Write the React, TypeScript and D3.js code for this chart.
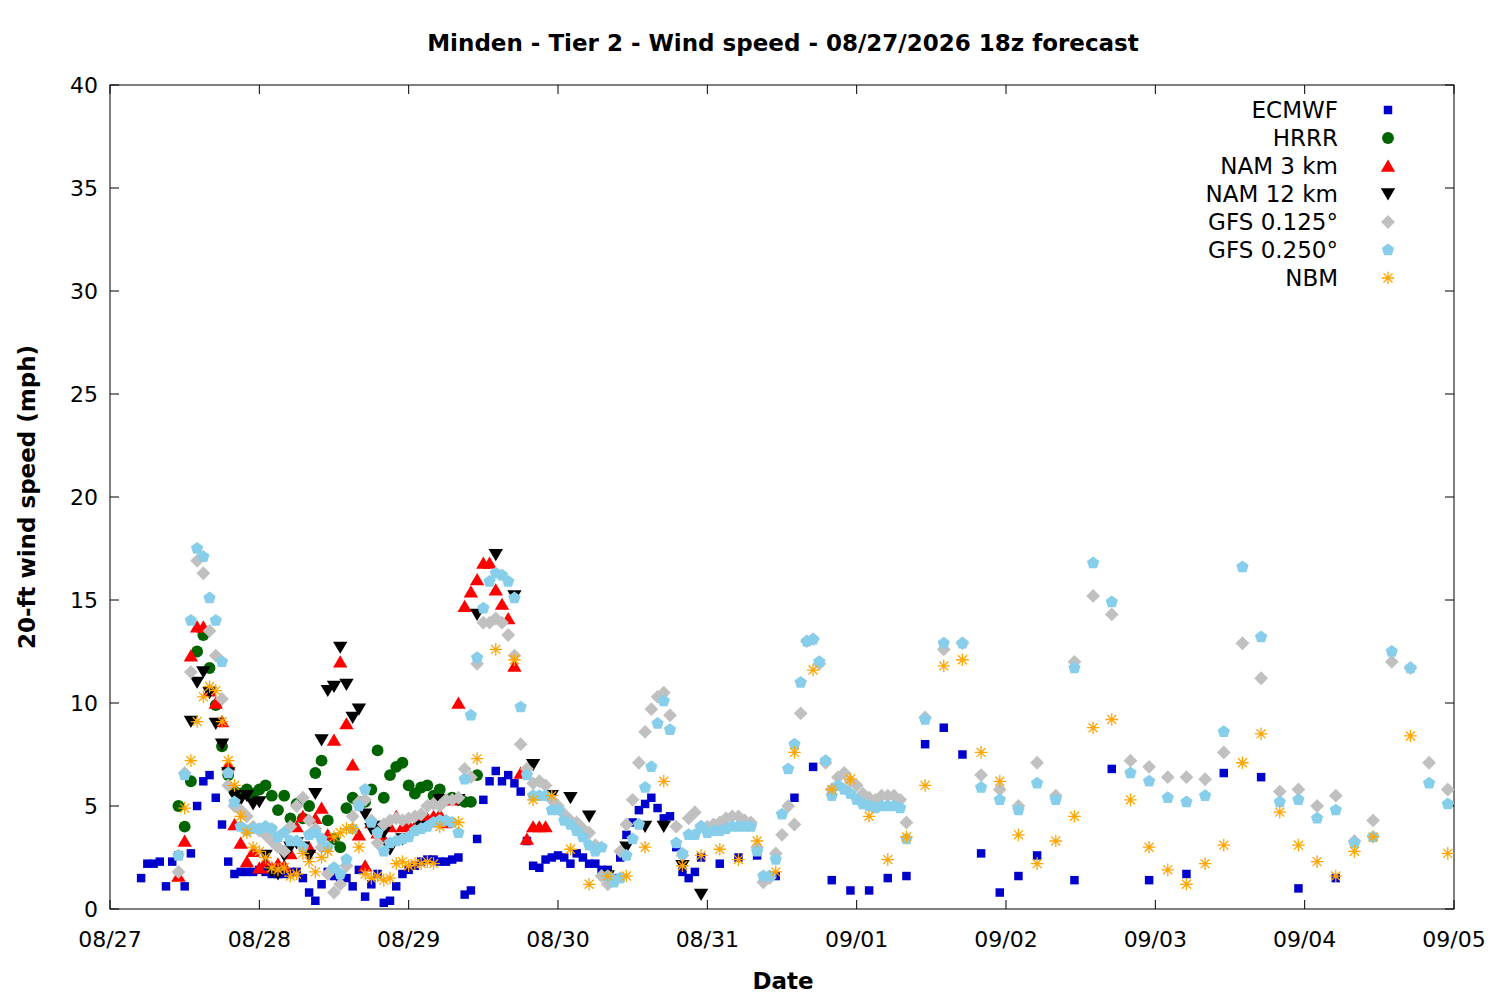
import * as d3 from "d3";

const W = 1500;
const H = 1000;
const MARGIN = { top: 85, right: 46, bottom: 91, left: 110 };

// hours since 08/27 00 local
const dayLabels = ["08/27", "08/28", "08/29", "08/30", "08/31", "09/01", "09/02", "09/03", "09/04", "09/05"];
const yTicks = [0, 5, 10, 15, 20, 25, 30, 35, 40];

type Pt = [number, number];
const hourly = (start: number, vals: number[]): Pt[] => vals.map((v, i) => [start + i, v]);
const every3 = (start: number, vals: number[]): Pt[] => vals.map((v, i) => [start + 3 * i, v]);

const ecmwf: Pt[] = [
  ...hourly(5, [1.5, 2.2, 2.2, 2.3, 1.1, 2.3, 2.6, 1.1, 2.7, 5.0, 6.2, 6.5, 5.4, 4.1, 2.3, 1.7, 1.8, 1.8, 1.8, 1.9,
    1.8, 1.7, 1.7, 1.7, 1.8, 1.8, 1.5, 0.8, 0.4, 1.2, 1.8, 1.6, 1.3, 1.5, 1.1, 1.9, 0.6, 1.2, 1.7, 0.3,
    0.4, 1.1, 1.7, 1.9, 2.1, 2.3, 2.4, 2.4, 2.3, 2.3, 2.4, 2.5, 0.7, 0.9, 3.4, 5.3, 6.2, 6.7, 6.2, 6.5,
    6.1, 5.7, 3.3, 2.1, 2.0, 2.4, 2.5, 2.6, 2.5, 2.2, 2.7, 2.5, 2.2, 2.2, 1.9, 1.9, 1.5, 2.5, 3.6, 4.2,
    4.8, 5.1, 5.4, 4.9, 4.4, 4.5, 3.0, 1.8, 1.5, 1.8]),
  ...every3(95, [2.5, 2.2, 2.5, 2.6, 1.6, 5.4, 6.9, 1.4, 0.9, 0.9, 1.5, 1.6, 8.0, 8.8, 7.5, 2.7, 0.8, 1.6, 2.6]),
  [155, 1.4], [161, 6.8], [167, 1.4], [173, 1.7], [179, 6.6], [185, 6.4], [191, 1.0], [197, 1.5],
];

const hrrr: Pt[] = hourly(11, [5.0, 4.0, 6.2, 12.5, 13.3, 11.7, 9.9, 7.9, 6.5, 5.7, 5.6, 5.8, 5.6, 5.8, 6.0, 5.5,
  4.8, 5.5, 4.4, 5.1, 4.4, 5.0, 6.6, 7.2, 4.3, 3.4, 3.0, 4.9, 5.4, 5.2, 5.2, 5.8, 7.7, 5.4, 6.5, 6.9, 7.1,
  6.0, 5.6, 5.9, 6.0, 5.5, 5.8, 5.3, 5.4, 5.3, 5.2, 5.2, 6.5]);

const nam3: Pt[] = hourly(11, [1.6, 3.3, 12.3, 13.7, 13.7, 10.6, 10.0, 9.1, 7.0, 4.1, 3.2, 2.3, 2.8, 2.0, 2.3,
  2.0, 2.2, 2.1, 2.7, 4.0, 4.5, 3.0, 4.4, 4.9, 3.6, 8.2, 12.0, 9.0, 7.0, 3.6, 2.1, 4.2, 3.7, 3.4, 4.0, 4.5,
  4.0, 4.1, 4.0, 4.5, 4.4, 4.5, 4.6, 4.2, 5.3, 10.0, 14.7, 15.4, 16.0, 16.8, 16.8, 15.5, 14.8, 14.1, 11.8,
  6.6, 3.4, 4.0, 4.0, 4.0]);

const nam12: Pt[] = [
  ...hourly(13, [9.1, 11.0, 11.5, 10.5, 9.0, 8.0, 6.6, 5.5, 5.3, 5.5, 5.1, 5.2, 2.6, 1.8, 1.7, 2.6, 3.0, 3.2,
    3.0, 2.6, 5.6, 8.2, 10.6, 10.8, 12.7, 10.9, 9.3, 9.7, 4.6, 3.9, 4.0, 3.7, 2.9]),
  ...every3(47, [3.4, 4.0, 5.3, 5.3, 14.3, 17.2, 15.2, 7.0, 5.5, 5.4, 4.5, 1.6, 3.0, 4.0, 4.0, 2.1, 0.7]),
];

const gfs125: Pt[] = [
  ...hourly(11, [1.8, 6.6, 11.5, 16.9, 16.3, 13.5, 12.3, 10.2, 6.0, 5.0, 4.8, 4.5, 4.0, 3.8, 3.6, 3.3, 3.0,
    2.8, 4.0, 5.0, 5.4, 4.3, 3.9, 3.0, 1.7, 0.8, 1.2, 2.1, 4.5, 5.2, 5.3, 4.3, 3.2, 4.1, 4.3, 4.4, 4.3, 4.4,
    4.5, 4.6, 5.0, 5.1, 5.0, 5.3, 5.3, 5.4, 6.8, 6.4, 11.9, 13.9, 13.9, 14.1, 13.9, 13.3, 12.3, 8.0, 6.8,
    6.1, 6.2, 6.0, 5.3, 5.0, 4.6, 4.3, 4.2, 3.9, 3.7, 3.1, 1.6, 1.2, 1.4, 2.8, 4.1, 5.3, 7.1, 8.6, 9.7,
    10.3, 10.5, 9.4, 4.0, 2.6, 4.4, 4.7, 4.0, 4.0, 4.1, 4.2, 4.4, 4.5, 4.5, 4.3, 4.2, 3.0, 1.3, 1.5, 2.7,
    3.6, 5.0, 4.1, 9.5, 13.0, 13.1, 11.9, 7.1, 5.8, 6.4, 6.6, 6.2, 6.0, 5.6, 5.4, 5.3, 5.5, 5.5, 5.5, 5.3]),
  ...every3(128, [4.2, 9.3, 12.6, 12.9, 6.5, 5.8, 5.0, 7.1, 5.5, 12.0, 15.2, 14.3, 7.2, 6.9, 6.4, 6.4, 6.3,
    7.6, 12.9, 11.2, 5.7, 5.8, 5.0, 5.5, 3.3, 4.3, 12.0, 11.7, 7.1, 5.8]),
];

const gfs250: Pt[] = [
  ...hourly(11, [2.6, 6.5, 14.0, 17.5, 17.1, 15.1, 14.0, 12.0, 6.6, 5.2, 4.0, 3.8, 3.9, 3.9, 4.0, 3.9, 3.5,
    3.7, 3.3, 3.3, 3.0, 3.6, 3.7, 3.4, 3.0, 2.0, 1.7, 2.4, 3.9, 5.0, 5.8, 4.2, 3.7, 2.8, 3.2, 3.3, 3.4, 3.5,
    3.8, 3.9, 4.0, 4.2, 4.3, 4.3, 4.2, 3.7, 6.3, 9.4, 12.2, 14.6, 15.9, 16.3, 16.2, 15.9, 15.1, 9.8, 6.5,
    5.5, 5.5, 5.5, 4.8, 4.8, 4.3, 4.1, 3.8, 3.5, 3.1, 2.8, 3.0, 1.6, 1.3, 1.5, 2.6, 3.4, 4.1, 5.9, 6.9,
    9.0, 10.1, 8.7, 3.2, 2.7, 3.6, 3.6, 4.0, 3.7, 3.8, 3.8, 3.9, 4.0, 4.0, 4.0, 4.0, 2.8, 1.6, 1.6, 2.4,
    4.6, 6.8, 8.0, 11.0, 13.0, 13.1, 12.0, 7.2, 5.5, 6.0, 5.8, 5.6, 5.3, 5.1, 5.0, 4.9, 5.0, 5.0, 5.0, 4.9]),
  ...every3(128, [3.4, 9.2, 12.9, 12.9, 5.9, 5.3, 4.8, 6.1, 5.3, 11.7, 16.8, 14.9, 6.6, 6.2, 5.4, 5.2, 5.5,
    8.6, 16.6, 13.2, 5.2, 5.3, 4.4, 4.8, 3.2, 3.5, 12.5, 11.7, 6.1, 5.1]),
];

const nbm: Pt[] = [
  ...hourly(12, [4.9, 7.2, 9.1, 10.3, 10.8, 10.6, 9.1, 7.2, 6.0, 4.5, 3.7, 3.0, 2.8, 2.5, 2.0, 1.9, 2.0, 1.6,
    1.7, 2.7, 2.3, 1.8, 2.5, 2.8, 3.5, 3.7, 3.9, 3.9, 3.0, 1.7, 1.5, 1.6, 1.4, 1.5, 2.2, 2.3, 2.1, 2.2, 2.2,
    2.3, 2.2, 4.0]),
  ...every3(56, [4.2, 7.3, 12.6, 12.1, 5.3, 5.5, 2.9, 1.2, 1.6, 1.6, 3.0, 6.2, 2.1, 2.6, 2.9, 2.4, 3.3,
    1.8, 7.6, 11.6, 5.8, 6.3, 4.5, 2.4, 3.5, 6.0, 11.8, 12.1, 7.6, 6.2, 3.6, 2.2, 3.3, 4.5, 8.8, 9.2, 5.3,
    3.0, 1.9, 1.2, 2.2, 3.1, 7.1, 8.5, 4.7, 3.1, 2.3, 1.6, 2.8, 3.5]),
  [209, 8.4], [215, 2.7],
];

const pentagon: d3.SymbolType = {
  draw(ctx, size) {
    const r = Math.sqrt(size / 2.378);
    for (let i = 0; i < 5; i++) {
      const a = -Math.PI / 2 + (i * 2 * Math.PI) / 5;
      const x = r * Math.cos(a), y = r * Math.sin(a);
      i === 0 ? ctx.moveTo(x, y) : ctx.lineTo(x, y);
    }
    ctx.closePath();
  },
};
const triDown: d3.SymbolType = {
  draw(ctx, size) {
    const s = Math.sqrt(size * 2.3) / 2;
    ctx.moveTo(-s, -s * 0.8);
    ctx.lineTo(s, -s * 0.8);
    ctx.lineTo(0, s * 0.9);
    ctx.closePath();
  },
};
const triUp: d3.SymbolType = {
  draw(ctx, size) {
    const s = Math.sqrt(size * 2.3) / 2;
    ctx.moveTo(-s, s * 0.8);
    ctx.lineTo(s, s * 0.8);
    ctx.lineTo(0, -s * 0.9);
    ctx.closePath();
  },
};
const diamond: d3.SymbolType = {
  draw(ctx, size) {
    const s = Math.sqrt(size) * 0.75;
    ctx.moveTo(0, -s);
    ctx.lineTo(s, 0);
    ctx.lineTo(0, s);
    ctx.lineTo(-s, 0);
    ctx.closePath();
  },
};
const star: d3.SymbolType = {
  draw(ctx, size) {
    const r = Math.sqrt(size) / 2;
    for (let i = 0; i < 4; i++) {
      const a = (i * Math.PI) / 4;
      ctx.moveTo(-r * Math.cos(a), -r * Math.sin(a));
      ctx.lineTo(r * Math.cos(a), r * Math.sin(a));
    }
  },
};

const series = [
  { name: "ECMWF", data: ecmwf, color: "#0000cc", type: d3.symbolSquare, size: 72, stroke: false },
  { name: "HRRR", data: hrrr, color: "#006400", type: d3.symbolCircle, size: 110, stroke: false },
  { name: "NAM 3 km", data: nam3, color: "#ff0000", type: triUp, size: 90, stroke: false },
  { name: "NAM 12 km", data: nam12, color: "#000000", type: triDown, size: 90, stroke: false },
  { name: "GFS 0.125°", data: gfs125, color: "#c0c0c0", type: diamond, size: 85, stroke: false },
  { name: "GFS 0.250°", data: gfs250, color: "#87ceeb", type: pentagon, size: 100, stroke: false },
  { name: "NBM", data: nbm, color: "#ffa500", type: star, size: 160, stroke: true },
];

export default function App() {
  const iw = W - MARGIN.left - MARGIN.right;
  const ih = H - MARGIN.top - MARGIN.bottom;
  const x = d3.scaleLinear().domain([0, 216]).range([0, iw]);
  const y = d3.scaleLinear().domain([0, 40]).range([ih, 0]);
  const font = "'DejaVu Sans', sans-serif";

  return (
    <svg width={W} height={H} style={{ display: "block", margin: -8 }} fontFamily={font}>
      <rect width={W} height={H} fill="white" />
      <text x={783} y={51} textAnchor="middle" fontSize={23} fontWeight="bold">
        Minden - Tier 2 - Wind speed - 08/27/2026 18z forecast
      </text>
      <g transform={`translate(${MARGIN.left},${MARGIN.top})`}>
        {yTicks.map((t) => (
          <g key={t}>
            <line x1={0} x2={9} y1={y(t)} y2={y(t)} stroke="black" />
            <line x1={iw} x2={iw - 9} y1={y(t)} y2={y(t)} stroke="black" />
            <text x={-12} y={y(t) + 8} textAnchor="end" fontSize={22}>{t}</text>
          </g>
        ))}
        {dayLabels.map((d, i) => (
          <g key={d}>
            <line x1={x(i * 24)} x2={x(i * 24)} y1={ih} y2={ih - 9} stroke="black" />
            <line x1={x(i * 24)} x2={x(i * 24)} y1={0} y2={9} stroke="black" />
            <text x={x(i * 24)} y={ih + 38} textAnchor="middle" fontSize={22}>{d}</text>
          </g>
        ))}
        <rect width={iw} height={ih} fill="none" stroke="black" />
        {series.map((s) => {
          const p = d3.symbol(s.type, s.size)()!;
          return (
            <g key={s.name}>
              {s.data.map(([h, v], i) => (
                <path key={i} d={p} transform={`translate(${x(h)},${y(v)})`}
                  fill={s.stroke ? "none" : s.color} stroke={s.stroke ? s.color : "none"} strokeWidth={1.3} />
              ))}
            </g>
          );
        })}
        {series.map((s, i) => {
          const p = d3.symbol(s.type, s.size)()!;
          const ly = 25 + i * 28;
          return (
            <g key={s.name}>
              <text x={1228} y={ly + 8} textAnchor="end" fontSize={23}>{s.name}</text>
              <path d={p} transform={`translate(1278,${ly})`}
                fill={s.stroke ? "none" : s.color} stroke={s.stroke ? s.color : "none"} strokeWidth={1.3} />
            </g>
          );
        })}
      </g>
      <text x={783} y={989} textAnchor="middle" fontSize={23} fontWeight="bold">Date</text>
      <text transform="translate(35,497) rotate(-90)" textAnchor="middle" fontSize={23} fontWeight="bold">
        20-ft wind speed (mph)
      </text>
    </svg>
  );
}
